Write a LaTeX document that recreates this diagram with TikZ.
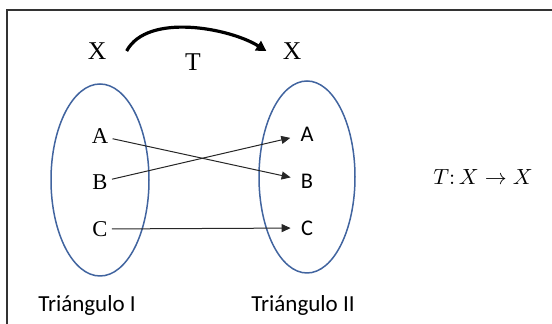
\documentclass[tikz,border=0pt]{standalone}
\usepackage{fontspec}
\setmainfont{Liberation Serif}
\newfontfamily\sansfam{Carlito}
\usetikzlibrary{arrows.meta,positioning,shapes.geometric}
\definecolor{setblue}{HTML}{41649F}

\begin{document}
\begin{tikzpicture}[
  x=0.5pt, y=-0.5pt,
  setline/.style={ellipse, draw=setblue, line width=0.75pt, inner sep=0pt},
  letl/.style={inner sep=2pt, font=\fontsize{11.3}{13}\selectfont},
  letr/.style={inner sep=2pt, font=\sansfam\fontsize{11.2}{13}\selectfont},
  spacel/.style={inner sep=2pt, font=\fontsize{12.8}{14}\selectfont},
  caption/.style={inner sep=0pt, font=\sansfam\fontsize{11.5}{13}\selectfont},
  maparr/.style={-{Triangle[length=4.5pt,width=4pt]}, line width=0.5pt, black!85},
  bigarr/.style={-{Triangle[length=5pt,width=5.5pt]}, line width=1.6pt}
]
\useasboundingbox (0,0) rectangle (552,324);
\draw[black!80, line width=0.9pt] (7,324) -- (7,10) -- (552,10);

% the two sets
\node[setline, minimum width=49pt, minimum height=96pt] (setI) at (100,180) {};
\node[setline, minimum width=48pt, minimum height=96pt] (setII) at (307,177) {};

\node[spacel] (xL) at (97,51) {X};
\node[spacel] (xR) at (292,51) {X};
\node[spacel] (tname) at (193,62) {T};

\node[letl] (aL) at (100,136) {A};
\node[letl] (bL) at (100,182) {B};
\node[letl] (cL) at (100,229) {C};
\node[letr] (aR) at (307,134) {A};
\node[letr] (bR) at (307,181) {B};
\node[letr] (cR) at (307,228) {C};

\node[caption, anchor=base] (capI) at (87,312) {Triángulo I};
\node[caption, anchor=base] (capII) at (303,312) {Triángulo II};
\node[inner sep=0pt, font=\fontsize{11}{13}\selectfont] (rule) at (483,177) {$T{:}\,X \rightarrow X$};

\draw[bigarr] ([xshift=8pt]xL.east) to[out=62, in=148, looseness=0.8] ([xshift=-6pt]xR.west);
\draw[maparr, shorten >=3pt] (aL) -- (bR);
\draw[maparr, shorten >=3pt] (bL) -- (aR);
\draw[maparr, shorten >=3pt] (cL) -- (cR);
\end{tikzpicture}
\end{document}
